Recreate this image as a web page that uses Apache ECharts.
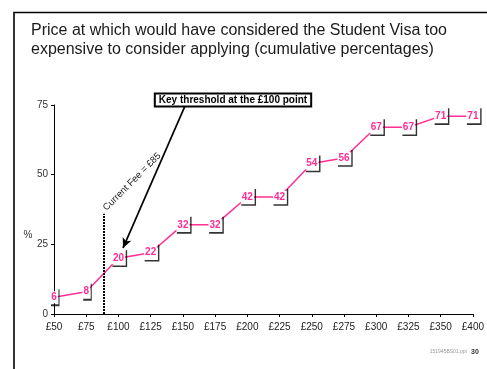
<!DOCTYPE html>
<html><head><meta charset="utf-8">
<script src="https://cdn.jsdelivr.net/npm/echarts@6/dist/echarts.min.js"></script>
<style>html,body{margin:0;padding:0;background:#fff}#c{width:487px;height:369px}</style>
</head><body><div id="c"></div>
<script>
const titleLines = ['Price at which would have considered the Student Visa too', 'expensive to consider applying (cumulative percentages)'];
const categories = ['£50','£75','£100','£125','£150','£175','£200','£225','£250','£275','£300','£325','£350','£400'];
const cumulativePct = [6,8,20,22,32,32,42,42,54,56,67,67,71,71];
const yTicks = [0,25,50,75];
const yAxisName = '%';
const currentFeeLabel = 'Current Fee = £85';
const currentFeePos = 1.53;   // position between £75 and £100 categories
const currentFeeLineTop = 36;
const annotationText = 'Key threshold at the £100 point';
const footerFile = '151945BS01.ppt';
const footerPage = '30';

const PINK = '#FF2E93';
const chart = echarts.init(document.getElementById('c'));

const linePts = cumulativePct.map((v, i) => [i, v]);
const bracketPts = cumulativePct.map((v, i) => {
  const two = String(v).length > 1;
  return {
    value: [i, v],
    symbol: two ? 'path://M14,0L14,16L0,16' : 'path://M8,0L8,16L0,16',
    symbolSize: two ? [14, 16] : [8, 16],
    symbolOffset: [1, 0]
  };
});

const option = {
  animation: false,
  grid: { left: 54, right: 14, top: 105, bottom: 55 },
  xAxis: {
    type: 'value', min: 0, max: categories.length - 1, interval: 1,
    splitLine: { show: false },
    axisLine: { show: true, lineStyle: { color: '#000', width: 1 } },
    axisTick: { show: true, length: 3, lineStyle: { color: '#000' } },
    axisLabel: { formatter: v => categories[v] || '', color: '#222', fontSize: 10, fontFamily: 'Liberation Sans, Arial', margin: 8 }
  },
  yAxis: {
    type: 'value', min: yTicks[0], max: yTicks[yTicks.length - 1], interval: 25,
    splitLine: { show: false },
    axisLine: { show: true, lineStyle: { color: '#000', width: 1 } },
    axisTick: { show: true, length: 3, lineStyle: { color: '#000' } },
    axisLabel: { color: '#333', fontSize: 10, fontFamily: 'Liberation Sans, Arial', margin: 6 }
  },
  series: [
    {
      type: 'scatter', data: bracketPts, z: 5, silent: true,
      itemStyle: { color: 'transparent', borderColor: '#000', borderWidth: 1.5 },
      markLine: {
        silent: true, symbol: 'none', animation: false,
        lineStyle: { color: '#000', type: [2, 1], width: 2 },
        label: { show: false },
        data: [[{ coord: [currentFeePos, 0] }, { coord: [currentFeePos, currentFeeLineTop] }]]
      }
    },
    {
      type: 'line', data: linePts, z: 2,
      symbol: 'circle', symbolSize: 1, showSymbol: true,
      lineStyle: { color: PINK, width: 1.5 },
      itemStyle: { color: PINK },
      label: {
        show: true, position: 'inside', formatter: p => p.value[1],
        color: PINK, fontWeight: 'bold', fontSize: 10, fontFamily: 'Liberation Sans, Arial',
        backgroundColor: '#fff', padding: [1, 1]
      },
      markLine: {
        silent: true, animation: false,
        symbol: ['none', 'arrow'], symbolSize: [7, 10],
        lineStyle: { color: '#000', type: 'solid', width: 1.8 },
        label: { show: false },
        data: [[{ x: 185, y: 106 }, { x: 123, y: 248 }]]
      }
    }
  ]
};
chart.setOption(option);

const feeTop = chart.convertToPixel({ gridIndex: 0 }, [currentFeePos, currentFeeLineTop]);
chart.setOption({
  graphic: [
    { type: 'polyline', shape: { points: [[14, 369], [14, 12.5], [487, 12.5]] }, style: { stroke: '#000', lineWidth: 1.6, fill: null }, silent: true },
    { type: 'text', left: 31, top: 21, style: { text: titleLines.join('\n'), font: '16px "Liberation Sans", Arial', fill: '#1a1a1a', lineHeight: 19 } },
    { type: 'text', x: 233, y: 100, z: 10, style: { text: annotationText, font: 'bold 10px "Liberation Sans", Arial', fill: '#000', align: 'center', verticalAlign: 'middle', backgroundColor: '#fff', borderColor: '#000', borderWidth: 2, padding: [1, 3, 0, 3] } },
    { type: 'text', x: feeTop[0] + 5, y: feeTop[1] - 1, rotation: Math.PI / 4, style: { text: currentFeeLabel, font: '9.5px "Liberation Sans", Arial', fill: '#222', align: 'left', verticalAlign: 'bottom' } },
    { type: 'text', x: 28, y: 235, style: { text: yAxisName, font: '10px "Liberation Sans", Arial', fill: '#333', align: 'center', verticalAlign: 'middle' } },
    { type: 'text', x: 467, y: 352, style: { text: footerFile, font: '5px "Liberation Sans", Arial', fill: '#999', align: 'right', verticalAlign: 'middle' } },
    { type: 'text', x: 471, y: 352, style: { text: footerPage, font: 'bold 7px "Liberation Sans", Arial', fill: '#333', align: 'left', verticalAlign: 'middle' } }
  ]
});
</script></body></html>
